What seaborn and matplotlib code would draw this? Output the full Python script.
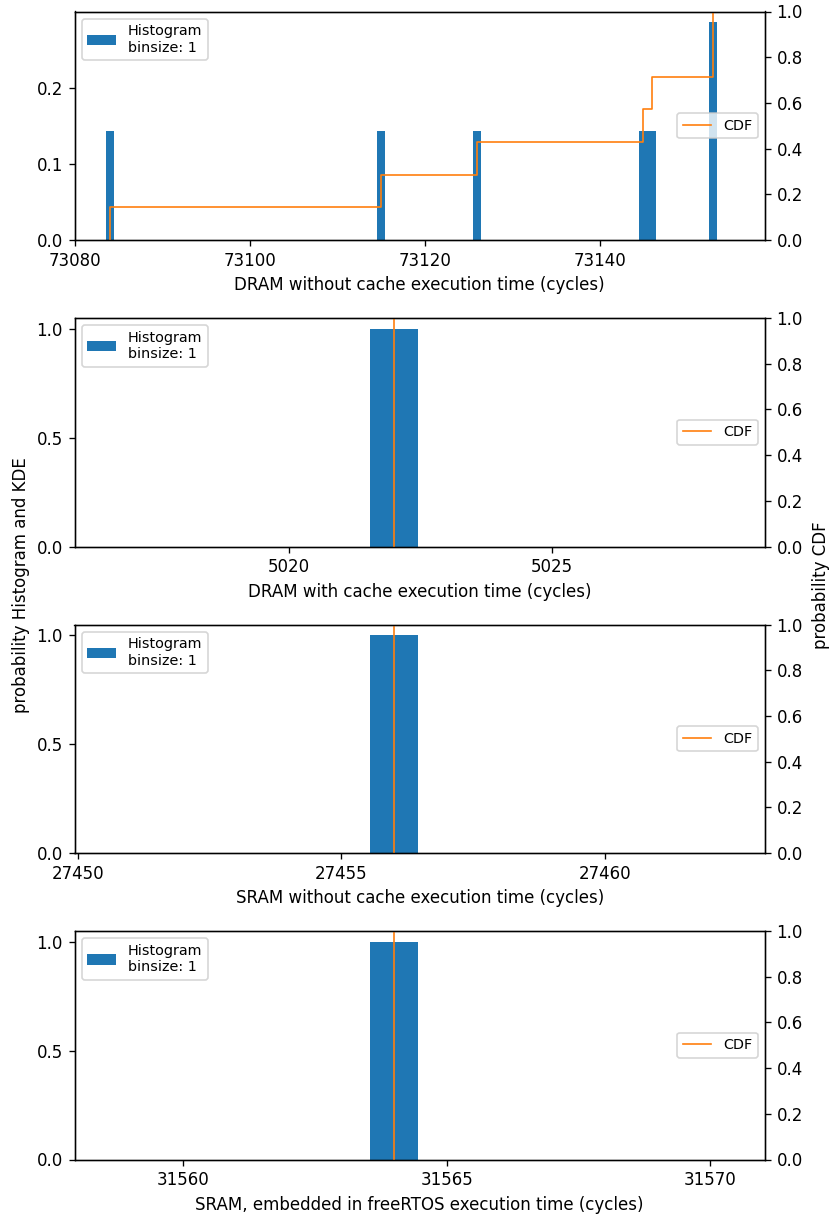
import numpy as np
import pandas as pd
import matplotlib
matplotlib.use("Agg")
import matplotlib.pyplot as plt
import seaborn as sns
from matplotlib.patches import Patch
from matplotlib.ticker import MultipleLocator

# ---- data (execution times in cycles) ----
dram_nocache = [73084, 73115, 73126, 73145, 73146, 73153, 73153]
dram_cache = [5022, 5022, 5022, 5022, 5022, 5022, 5022]
sram_nocache = [27456, 27456, 27456, 27456, 27456, 27456, 27456]
sram_freertos = [31564, 31564, 31564, 31564, 31564, 31564, 31564]

datasets = [dram_nocache, dram_cache, sram_nocache, sram_freertos]
xlabels = [
    "DRAM without cache execution time (cycles)",
    "DRAM with cache execution time (cycles)",
    "SRAM without cache execution time (cycles)",
    "SRAM, embedded in freeRTOS execution time (cycles)",
]
xlims = [
    (73079.95, 73158.9),
    (5015.94, 5029.03),
    (27449.94, 27463.04),
    (31557.93, 31571.04),
]
xtick_steps = [20, 5, 5, 5]
left_yticks = [
    [0.0, 0.1, 0.2],
    [0.0, 0.5, 1.0],
    [0.0, 0.5, 1.0],
    [0.0, 0.5, 1.0],
]
right_yticks = [0.0, 0.2, 0.4, 0.6, 0.8, 1.0]
hist_label = "Histogram\nbinsize: 1"
cdf_label = "CDF"

W, H = 832, 1218
DPI = 120
fig = plt.figure(figsize=(W / DPI, H / DPI), dpi=DPI)

left_px, right_px = 74.5, 764.8
ax_h_px = 228.5
bottoms_px = [240.0, 546.5, 853.0, 1159.5]
shrinks = [0.97, 0.92, 0.92, 0.92]
LEG_FS = 8.6

for data, xl, lim, xs, yt, bpx, shr in zip(datasets, xlabels, xlims, xtick_steps,
                                           left_yticks, bottoms_px, shrinks):
    ax = fig.add_axes([left_px / W, (H - bpx) / H,
                       (right_px - left_px) / W, ax_h_px / H])
    sns.histplot(x=data, discrete=True, stat="probability", color="#1f77b4",
                 alpha=1, linewidth=0, shrink=shr, ax=ax)
    ax.set_ylabel("")
    ax.set_xlabel(xl)
    ax.xaxis.get_major_formatter().set_useOffset(False)
    ax.xaxis.set_major_locator(MultipleLocator(xs))
    ax.set_yticks(yt)
    ax.legend(handles=[Patch(facecolor="#1f77b4", label=hist_label)],
              loc="upper left", fontsize=LEG_FS)

    ax2 = ax.twinx()
    sns.ecdfplot(x=data, color="#ff7f0e", linewidth=1.0, label=cdf_label, ax=ax2)
    ax2.set_ylabel("")
    ax2.set_ylim(0, 1)
    ax2.set_yticks(right_yticks)
    ax2.legend(loc="center right", fontsize=LEG_FS)
    ax.set_xlim(*lim)
    ax2.set_xlim(*lim)

ymid = (H - 585.4) / H
fig.text(21 / W, ymid, "probability Histogram and KDE", rotation=90,
         ha="center", va="center", fontsize=10)
fig.text(821 / W, ymid, "probability CDF", rotation=90,
         ha="center", va="center", fontsize=10)

fig.savefig("out.png", dpi=DPI)
